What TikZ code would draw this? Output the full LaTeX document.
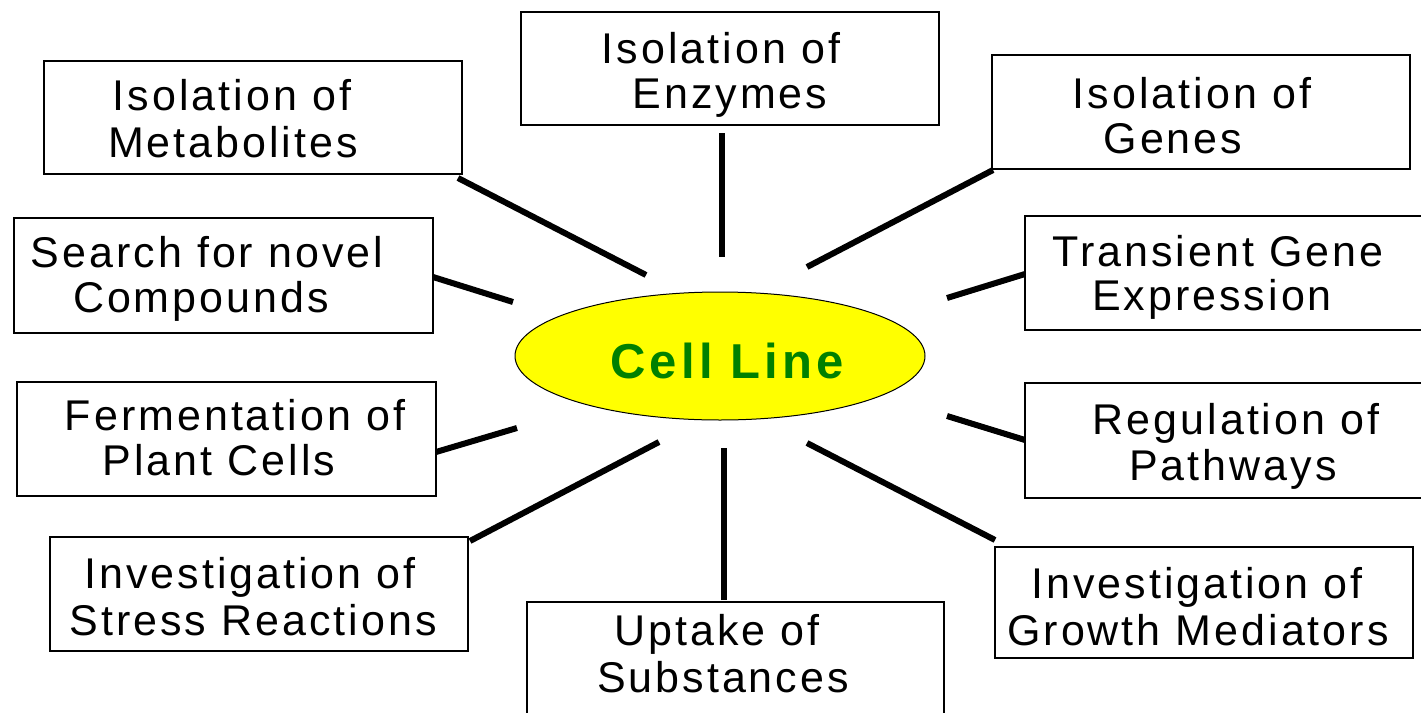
\documentclass[tikz,border=0pt]{standalone}
\usepackage{fontspec}
\setmainfont{Liberation Sans}
\newfontfamily\boxfont[LetterSpace=7]{Liberation Sans}
\newfontfamily\cellfont[LetterSpace=8.5]{Liberation Sans}
\usetikzlibrary{shapes.geometric}
\definecolor{cellgreen}{RGB}{0,128,0}
\definecolor{cellyellow}{RGB}{255,255,0}
\tikzset{
  box/.style={draw=black, line width=1.3pt, inner sep=0pt, minimum width=418pt, minimum height=114pt},
  txt/.style={inner sep=0pt, anchor=base, font=\boxfont\fontsize{43}{46}\selectfont},
  spoke/.style={draw=black, line width=6pt, line cap=butt},
  cellshape/.style={ellipse, draw=black, line width=1pt, fill=cellyellow, inner sep=0pt, minimum width=410pt, minimum height=128pt},
  celltxt/.style={inner sep=0pt, anchor=base, text=cellgreen, font=\cellfont\bfseries\fontsize{49}{52}\selectfont}
}
\begin{document}
\begin{tikzpicture}[x=1pt,y=-1pt]
\useasboundingbox (0,0) rectangle (1421,712);
\clip (0,0) rectangle (1421,712);
% central ellipse
\node[cellshape] (cell) at (720,356) {};
\node[celltxt] (celltext) at (727,378) {Cell Line};
% boxes
\node[box, minimum height=113pt] (b1) at (253,117.5) {};
\node[txt] (t1a) at (232,110) {Isolation of};
\node[txt] (t1b) at (233,157) {Metabolites};
\node[box, minimum height=113pt] (b2) at (730,68.5) {};
\node[txt] (t2a) at (721,63) {Isolation of};
\node[txt] (t2b) at (730,108) {Enzymes};
\node[box] (b3) at (1201,112) {};
\node[txt] (t3a) at (1192,108) {Isolation of};
\node[txt] (t3b) at (1173,153) {Genes};
\node[box, minimum width=419pt, minimum height=115pt] (b4) at (223.5,275.5) {};
\node[txt] (t4a) at (207,267) {Search for novel};
\node[txt] (t4b) at (201,312) {Compounds};
\node[box, minimum width=405pt] (b5) at (1227.5,273) {};
\node[txt] (t5a) at (1218,266) {Transient Gene};
\node[txt] (t5b) at (1212,310) {Expression};
\node[box, minimum width=419pt] (b6) at (226.5,439) {};
\node[txt] (t6a) at (235,430) {Fermentation of};
\node[txt] (t6b) at (219,475) {Plant Cells};
\node[box, minimum width=405pt, minimum height=115pt] (b7) at (1227.5,440.5) {};
\node[txt] (t7a) at (1236,434) {Regulation of};
\node[txt] (t7b) at (1233,480) {Pathways};
\node[box] (b8) at (259,594) {};
\node[txt] (t8a) at (250,588) {Investigation of};
\node[txt] (t8b) at (253,635) {Stress Reactions};
\node[box, minimum width=417pt, minimum height=128pt] (b9) at (735.5,666) {};
\node[txt] (t9a) at (717,645) {Uptake of};
\node[txt] (t9b) at (723,692) {Substances};
\node[box, minimum height=111pt] (b10) at (1204,602.5) {};
\node[txt] (t10a) at (1197,598) {Investigation of};
\node[txt] (t10b) at (1198,645) {Growth Mediators};
% connector end points
\coordinate (s1a) at (458,178); \coordinate (s1b) at (646,275);
\coordinate (s2a) at (722,133); \coordinate (s2b) at (722,257);
\coordinate (s3a) at (993,170); \coordinate (s3b) at (807,267);
\coordinate (s4a) at (433,277); \coordinate (s4b) at (513,302);
\coordinate (s5a) at (1025,274); \coordinate (s5b) at (947,298);
\coordinate (s6a) at (436,452); \coordinate (s6b) at (517,428);
\coordinate (s7a) at (1025,440); \coordinate (s7b) at (947,416);
\coordinate (s8a) at (470,541); \coordinate (s8b) at (659,442);
\coordinate (s9a) at (724,600); \coordinate (s9b) at (724,448);
\coordinate (s10a) at (995,540); \coordinate (s10b) at (807,443);
\foreach \i in {1,...,10} { \draw[spoke] (s\i a) -- (s\i b); }
\end{tikzpicture}
\end{document}
